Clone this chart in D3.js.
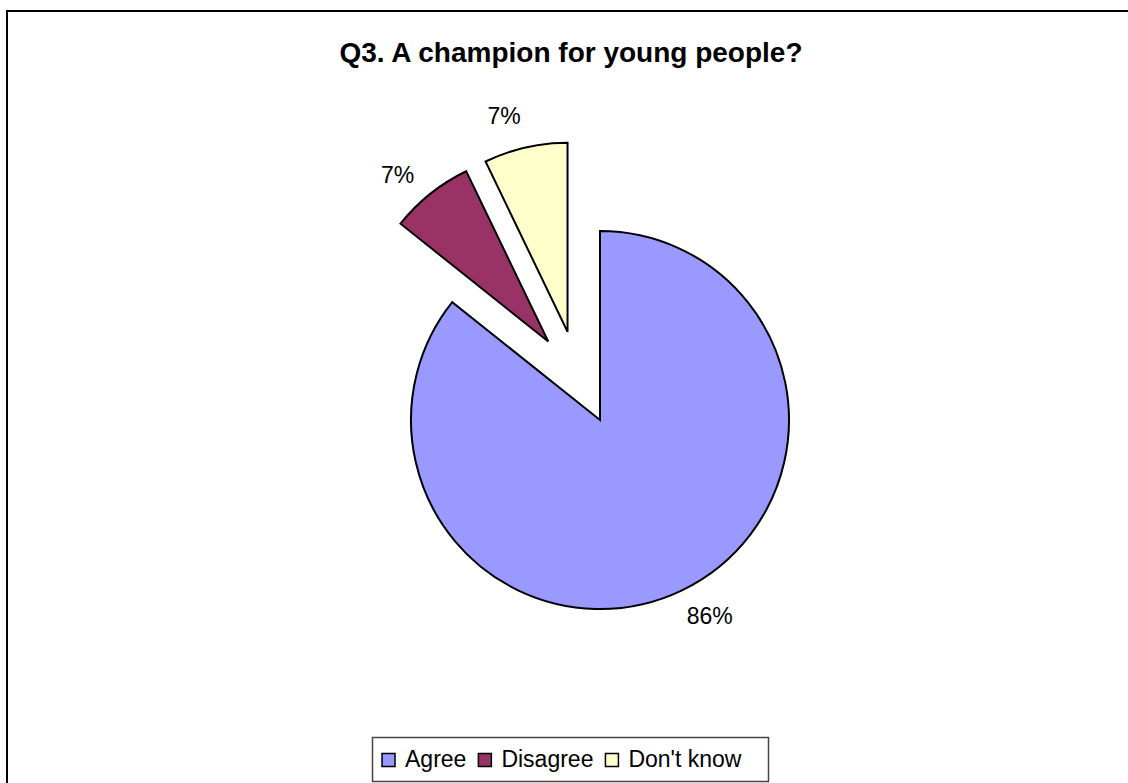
<!DOCTYPE html>
<html>
<head>
<meta charset="utf-8">
<script src="https://cdn.jsdelivr.net/npm/d3@7"></script>
<style>
  body { margin: 0; background: #fff; }
  text { font-family: "Liberation Sans", Arial, sans-serif; }
</style>
</head>
<body>
<div id="plot"></div>
<script>
// Chart data
const title = "Q3. A champion for young people?";
const categories = ["Agree", "Disagree", "Don't know"];
const counts = [12, 1, 1];
const colors = ["#9999FF", "#993366", "#FFFFCC"];

// Dimensions
const width = 1128;
const height = 783;
const cx = 600, cy = 420;
const radius = 189;

// exploded slices: distance and direction (degrees clockwise from 12 o'clock)
const explodeDist = [0, 94, 94];
const explodeDir = [0, 326.6, 339.8];

const svg = d3.select("#plot")
  .append("svg")
  .attr("width", width)
  .attr("height", height);

// chart frame
svg.append("rect")
  .attr("x", 7)
  .attr("y", 11)
  .attr("width", 1140)
  .attr("height", 800)
  .attr("fill", "#fff")
  .attr("stroke", "#000")
  .attr("stroke-width", 2);

// Title
svg.append("text")
  .attr("x", 571)
  .attr("y", 62)
  .attr("text-anchor", "middle")
  .style("font-size", "28px")
  .style("font-weight", "bold")
  .text(title);

const total = d3.sum(counts);
const pieData = categories.map((c, i) => ({ category: c, value: counts[i], i: i }));

const pie = d3.pie().value(d => d.value).sort(null);
const arc = d3.arc().innerRadius(0).outerRadius(radius);

const arcs = pie(pieData);
const fmt = v => Math.round(v / total * 100) + "%";

const g = svg.append("g")
  .attr("transform", `translate(${cx}, ${cy})`);

const slice = g.selectAll("g.slice")
  .data(arcs)
  .enter()
  .append("g")
  .attr("class", "slice")
  .attr("transform", d => {
    const a = explodeDir[d.data.i] * Math.PI / 180;
    const dist = explodeDist[d.data.i];
    return `translate(${Math.sin(a) * dist}, ${-Math.cos(a) * dist})`;
  });

slice.append("path")
  .attr("d", arc)
  .attr("fill", (d, i) => colors[i])
  .attr("stroke", "#000")
  .attr("stroke-width", 2)
  .attr("stroke-linejoin", "miter");

// Percentage labels outside each slice
const labelR = 225;
const labelShift = -3.5 * Math.PI / 180;
const labelAngle = d => (d.startAngle + d.endAngle) / 2 + labelShift;
slice.append("text")
  .attr("x", d => Math.sin(labelAngle(d)) * labelR)
  .attr("y", d => -Math.cos(labelAngle(d)) * labelR)
  .attr("text-anchor", "middle")
  .attr("dominant-baseline", "central")
  .style("font-size", "23px")
  .text(d => fmt(d.value));

// Legend
const legend = svg.append("g");
legend.append("rect")
  .attr("x", 372.5)
  .attr("y", 737.5)
  .attr("width", 396)
  .attr("height", 44)
  .attr("fill", "#fff")
  .attr("stroke", "#444")
  .attr("stroke-width", 1.5);

let lx = 382;
categories.forEach((c, i) => {
  legend.append("rect")
    .attr("x", lx)
    .attr("y", 753.5)
    .attr("width", 13)
    .attr("height", 13)
    .attr("fill", colors[i])
    .attr("stroke", "#000")
    .attr("stroke-width", 1.5);
  const t = legend.append("text")
    .attr("x", lx + 23)
    .attr("y", 767)
    .style("font-size", "23px")
    .text(c);
  lx += 23 + t.node().getComputedTextLength() + 12;
});
</script>
</body>
</html>
